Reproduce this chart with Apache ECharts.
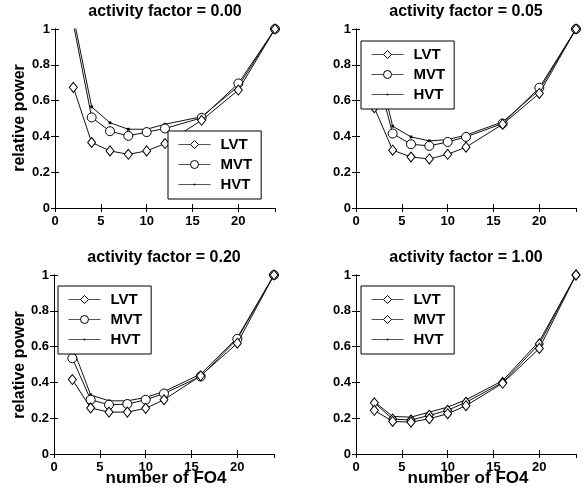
<!DOCTYPE html>
<html>
<head>
<meta charset="utf-8">
<script src="https://cdn.jsdelivr.net/npm/echarts@6/dist/echarts.min.js"></script>
<style>html,body{margin:0;padding:0;background:#fff}#c{width:586px;height:496px}</style>
</head>
<body>
<div id="c"></div>
<script>
const fo4 = [2, 4, 6, 8, 10, 12, 16, 20, 24];
const xTicks = [0, 5, 10, 15, 20];
const yTicks = [0, 0.2, 0.4, 0.6, 0.8, 1];
const seriesNames = ['LVT', 'MVT', 'HVT'];
const titles = ['activity factor = 0.00', 'activity factor = 0.05', 'activity factor = 0.20', 'activity factor = 1.00'];

const af000_LVT = [0.674, 0.366, 0.319, 0.300, 0.319, 0.360, 0.490, 0.659, 1];
const af000_MVT = [1.03, 0.506, 0.429, 0.403, 0.424, 0.444, 0.504, 0.696, 1];
const af000_HVT = [1.07, 0.565, 0.476, 0.440, 0.440, 0.468, 0.510, 0.680, 1];

const af005_LVT = [0.560, 0.323, 0.285, 0.274, 0.300, 0.340, 0.468, 0.640, 1];
const af005_MVT = [0.80, 0.416, 0.356, 0.347, 0.369, 0.397, 0.472, 0.672, 1];
const af005_HVT = [0.88, 0.457, 0.397, 0.375, 0.382, 0.407, 0.481, 0.659, 1];

const af020_LVT = [0.416, 0.257, 0.234, 0.234, 0.255, 0.303, 0.437, 0.619, 1];
const af020_MVT = [0.535, 0.303, 0.275, 0.279, 0.303, 0.338, 0.433, 0.643, 1];
const af020_HVT = [0.60, 0.330, 0.297, 0.297, 0.316, 0.349, 0.446, 0.650, 1];

const af100_LVT = [0.244, 0.182, 0.178, 0.197, 0.225, 0.270, 0.395, 0.590, 1];
const af100_MVT = [0.286, 0.195, 0.190, 0.216, 0.244, 0.289, 0.400, 0.615, 1];
const af100_HVT = [0.292, 0.210, 0.206, 0.234, 0.262, 0.303, 0.410, 0.630, 1];

const panels = [
  [af000_LVT, af000_MVT, af000_HVT],
  [af005_LVT, af005_MVT, af005_HVT],
  [af020_LVT, af020_MVT, af020_HVT],
  [af100_LVT, af100_MVT, af100_HVT]
];

const FONT = '"Liberation Sans", Arial, Helvetica, sans-serif';
const DOT = 'path://M0,0 M10,10 M4,4 L6,4 L6,6 L4,6 Z';
const grids = [
  {left: 55, top: 29, width: 220, height: 179},
  {left: 356, top: 29, width: 220, height: 179},
  {left: 54, top: 275, width: 220, height: 179},
  {left: 356, top: 275, width: 220, height: 179}
];
const legendPos = [
  {left: 168, top: 131},
  {left: 361, top: 41},
  {left: 58, top: 286},
  {left: 361, top: 286}
];
const symbolsByPanel = [
  ['diamond', 'circle', DOT],
  ['diamond', 'circle', DOT],
  ['diamond', 'circle', DOT],
  ['diamond', 'diamond', DOT]
];
function symSize(sym) {
  if (sym === 'diamond') return [8, 10];
  if (sym === 'circle') return 9;
  return 14;
}

const xAxis = [], yAxis = [], series = [], legend = [], graphic = [];
grids.forEach((g, i) => {
  const axLine = {show: true, lineStyle: {color: '#000', width: 1}};
  xAxis.push({
    gridIndex: i, type: 'value', min: 0, max: 24, interval: 5, position: 'bottom',
    axisLine: axLine, splitLine: {show: false},
    axisTick: {inside: true, length: 4, lineStyle: {color: '#000'}},
    axisLabel: {showMaxLabel: false, margin: 7, color: '#000', fontWeight: 'bold', fontSize: 13, fontFamily: FONT,
      formatter: v => (xTicks.indexOf(v) >= 0 ? String(v) : '')}
  });
  xAxis.push({
    gridIndex: i, type: 'value', min: 0, max: 24, interval: 5, position: 'top',
    axisLine: axLine, splitLine: {show: false},
    axisTick: {inside: true, length: 4, lineStyle: {color: '#000'}},
    axisLabel: {show: false}
  });
  yAxis.push({
    gridIndex: i, type: 'value', min: 0, max: 1, interval: 0.2, position: 'left',
    axisLine: axLine, splitLine: {show: false},
    axisTick: {inside: true, length: 4, lineStyle: {color: '#000'}},
    axisLabel: {margin: 5, color: '#000', fontWeight: 'bold', fontSize: 13, fontFamily: FONT,
      formatter: v => (yTicks.indexOf(v) >= 0 ? String(v) : '')}
  });
  yAxis.push({
    gridIndex: i, type: 'value', min: 0, max: 1, interval: 0.2, position: 'right',
    axisLine: axLine, splitLine: {show: false},
    axisTick: {inside: true, length: 4, lineStyle: {color: '#000'}},
    axisLabel: {show: false}
  });
  const names = [];
  seriesNames.forEach((nm, k) => {
    const sname = nm + '#' + i;
    names.push(sname);
    const sym = symbolsByPanel[i][k];
    const isDot = sym === DOT;
    series.push({
      name: sname, type: 'line', xAxisIndex: i * 2, yAxisIndex: i * 2,
      data: fo4.map((x, j) => [x, panels[i][k][j]]),
      symbol: sym, symbolSize: symSize(sym), showAllSymbol: true,
      lineStyle: {color: '#111', width: 1},
      itemStyle: isDot ? {color: '#000', borderWidth: 0} : {color: '#fff', borderColor: '#000', borderWidth: 1},
      clip: true, animation: false, z: 3 - k
    });
  });
  legend.push({
    data: names, orient: 'vertical', left: legendPos[i].left, top: legendPos[i].top,
    itemWidth: 32, itemHeight: 10, itemGap: 5, padding: [6, 9, 7, 10],
    backgroundColor: '#fff', borderColor: '#000', borderWidth: 1, borderRadius: 0,
    selectedMode: false,
    lineStyle: {color: '#555', width: 1},
    itemStyle: {borderWidth: 1},
    formatter: n => n.split('#')[0],
    textStyle: {color: '#000', fontWeight: 'bold', fontSize: 15, fontFamily: FONT, padding: [0, 0, 0, 5], lineHeight: 10}
  });
  graphic.push({
    type: 'text', x: g.left + g.width / 2, y: g.top - 17,
    style: {text: titles[i], font: 'bold 16px ' + FONT, fill: '#000', align: 'center', verticalAlign: 'middle'}
  });
});
graphic.push({
  type: 'text', x: 20, y: 118, rotation: Math.PI / 2,
  style: {text: 'relative power', font: 'bold 16px ' + FONT, fill: '#000', align: 'center', verticalAlign: 'middle'}
});
graphic.push({
  type: 'text', x: 20, y: 365, rotation: Math.PI / 2,
  style: {text: 'relative power', font: 'bold 16px ' + FONT, fill: '#000', align: 'center', verticalAlign: 'middle'}
});
graphic.push({
  type: 'text', x: 166, y: 478,
  style: {text: 'number of FO4', font: 'bold 17px ' + FONT, fill: '#000', align: 'center', verticalAlign: 'middle'}
});
graphic.push({
  type: 'text', x: 468, y: 478,
  style: {text: 'number of FO4', font: 'bold 17px ' + FONT, fill: '#000', align: 'center', verticalAlign: 'middle'}
});

const chart = echarts.init(document.getElementById('c'), null, {renderer: 'canvas'});
chart.setOption({
  backgroundColor: '#fff',
  animation: false,
  grid: grids.map(g => Object.assign({containLabel: false}, g)),
  xAxis, yAxis, series, legend, graphic
});
</script>
</body>
</html>
